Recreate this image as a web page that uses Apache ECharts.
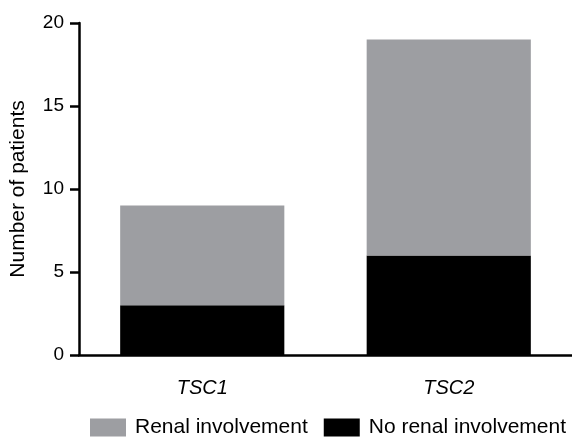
<!DOCTYPE html>
<html><head><meta charset="utf-8">
<script src="https://cdn.jsdelivr.net/npm/echarts@6/dist/echarts.min.js"></script>
<style>html,body{margin:0;padding:0;background:#fff}#c{width:572px;height:438px}</style>
</head><body><div id="c"></div>
<script>
const categories = ['TSC1', 'TSC2'];
const noRenal = [3, 6];
const renal = [6, 13];
const seriesNames = ['Renal involvement', 'No renal involvement'];
const yTicks = [0, 5, 10, 15, 20];

const chart = echarts.init(document.getElementById('c'), null, {renderer: 'canvas'});
const font = '"Liberation Sans", Arial, sans-serif';
chart.setOption({
  animation: false,
  textStyle: {fontFamily: font},
  grid: {left: 79, top: 23, width: 498, bottom: 83, containLabel: false},
  legend: {
    data: seriesNames,
    top: 417, left: 90, width: 482, padding: 0,
    itemWidth: 36, itemHeight: 18, itemGap: 16,
    textStyle: {fontSize: 21, color: '#000', fontFamily: font, padding: [0, 0, 0, 4]},
    icon: 'rect'
  },
  xAxis: {
    type: 'category', data: categories,
    axisLine: {lineStyle: {color: '#000', width: 2.5}},
    axisTick: {alignWithLabel: true, length: 9, lineStyle: {color: '#000', width: 2.5}},
    axisLabel: {fontSize: 20, fontStyle: 'italic', color: '#000', margin: 23, fontFamily: font}
  },
  yAxis: {
    type: 'value', min: yTicks[0], max: yTicks[yTicks.length - 1], interval: 5,
    name: 'Number of patients', nameLocation: 'middle', nameGap: 50,
    nameTextStyle: {fontSize: 21, color: '#000', fontFamily: font},
    splitLine: {show: false},
    axisLine: {show: true, lineStyle: {color: '#000', width: 2.5}},
    axisTick: {show: true, length: 9, lineStyle: {color: '#000', width: 2.5}},
    axisLabel: {fontSize: 19, color: '#000', margin: 15, fontFamily: font}
  },
  series: [
    {name: seriesNames[1], type: 'bar', stack: 's', data: noRenal, barWidth: '66.6%', itemStyle: {color: '#000'}},
    {name: seriesNames[0], type: 'bar', stack: 's', data: renal, barWidth: '66.6%', itemStyle: {color: '#9d9ea2'}}
  ]
});
</script></body></html>
